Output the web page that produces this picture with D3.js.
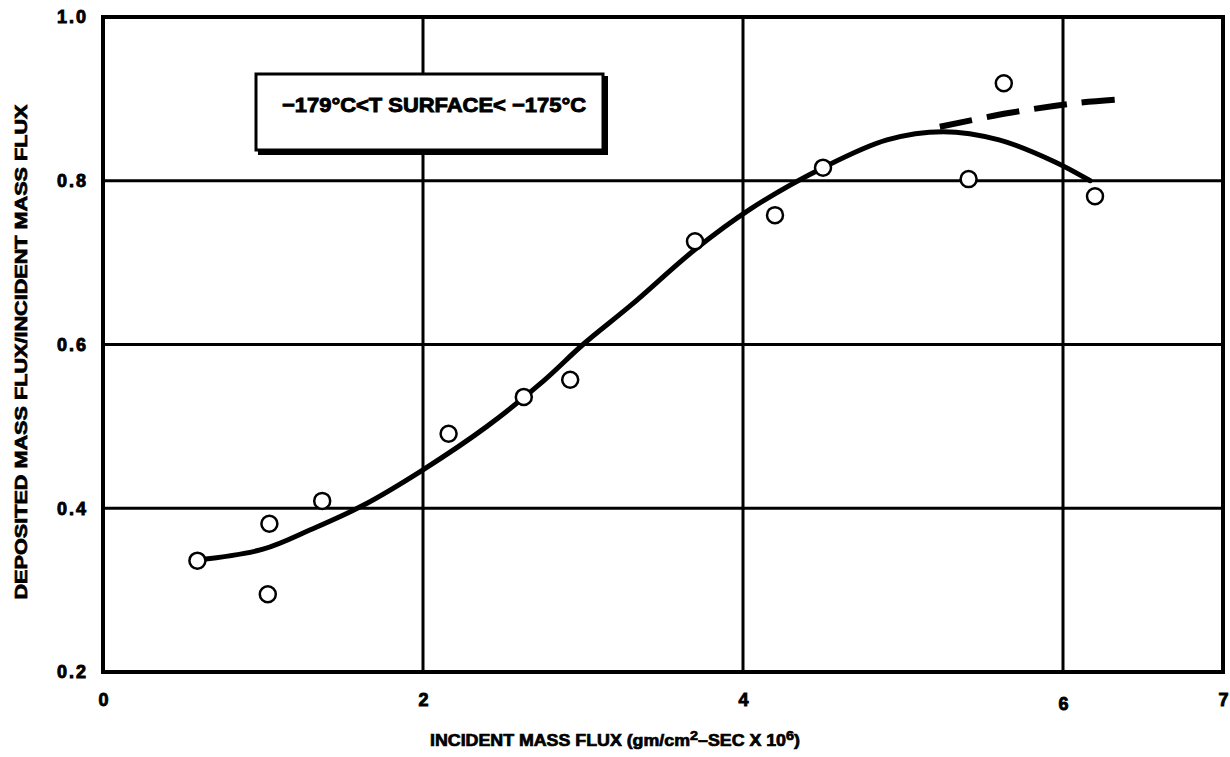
<!DOCTYPE html>
<html>
<head>
<meta charset="utf-8">
<script src="https://cdn.jsdelivr.net/npm/d3@7"></script>
<style>
  html, body { margin: 0; padding: 0; background: #fff; }
  svg { display: block; }
  text { font-family: "Liberation Sans", Arial, sans-serif; font-weight: bold; fill: #000; }
</style>
</head>
<body>
<svg id="chart" width="1230" height="757"></svg>
<script>
// ---- data ----
const xTicks = [0, 2, 4, 6, 7];
const yTicks = [0.2, 0.4, 0.6, 0.8, 1.0];
const pointX = [0.59, 1.04, 1.03, 1.37, 2.16, 2.63, 2.92, 3.70, 4.20, 4.50, 5.41, 5.63, 6.20];
const pointY = [0.336, 0.381, 0.295, 0.409, 0.491, 0.536, 0.557, 0.726, 0.758, 0.816, 0.802, 0.919, 0.781];
const curveX = [0.60, 1.00, 1.30, 1.62, 2.00, 2.40, 2.75, 3.00, 3.30, 3.70, 4.05, 4.50, 4.90, 5.25, 5.60, 5.95, 6.17];
const curveY = [0.337, 0.350, 0.374, 0.403, 0.447, 0.500, 0.555, 0.600, 0.648, 0.716, 0.766, 0.816, 0.850, 0.860, 0.850, 0.823, 0.800];
const dashX = [5.23, 5.67, 6.09, 6.41];
const dashY = [0.866, 0.883, 0.895, 0.900];
const legendText = "\u2212179\u00B0C<T SURFACE< \u2212175\u00B0C";
const xTitle = "INCIDENT MASS FLUX (gm/cm";
const yTitle = "DEPOSITED MASS FLUX/INCIDENT MASS FLUX";

// ---- layout ----
const svg = d3.select("#chart");
const L = 103, R = 1223, T = 17, B = 672;
const x = d3.scaleLinear().domain([0, 7]).range([L, R]);
const y = d3.scaleLinear().domain([0.2, 1.0]).range([B, T]);

// gridlines
const g = svg.append("g");
g.selectAll("line.vx").data(xTicks.filter(d => d > 0 && d < 7)).enter().append("line")
  .attr("x1", d => x(d)).attr("x2", d => x(d)).attr("y1", T).attr("y2", B)
  .attr("stroke", "#000").attr("stroke-width", 3);
g.selectAll("line.hy").data(yTicks.filter(d => d > 0.2 && d < 1.0)).enter().append("line")
  .attr("x1", L).attr("x2", R).attr("y1", d => y(d)).attr("y2", d => y(d))
  .attr("stroke", "#000").attr("stroke-width", 3);

// frame
svg.append("rect").attr("x", L).attr("y", T).attr("width", R - L).attr("height", B - T)
  .attr("fill", "none").attr("stroke", "#000").attr("stroke-width", 4);

// tick labels (axes via d3 axis, styled)
const xAxis = svg.append("g").attr("transform", `translate(0,${B})`)
  .call(d3.axisBottom(x).tickValues(xTicks).tickFormat(d3.format("d")).tickSize(0).tickPadding(21));
xAxis.select(".domain").remove();
xAxis.selectAll("text").style("font-size", "18px").style("font-family", "Liberation Sans, Arial, sans-serif")
  .style("font-weight", "bold").attr("stroke", "#000").attr("stroke-width", 0.9)
  .attr("dy", d => d === 6 ? "0.95em" : "0.71em");

const yAxis = svg.append("g").attr("transform", `translate(${L},0)`)
  .call(d3.axisLeft(y).tickValues(yTicks).tickFormat(d3.format(".1f")).tickSize(0).tickPadding(15));
yAxis.select(".domain").remove();
yAxis.selectAll("text").style("font-size", "18px").style("font-family", "Liberation Sans, Arial, sans-serif")
  .style("font-weight", "bold").style("letter-spacing", "2px").attr("stroke", "#000").attr("stroke-width", 0.9);

// fitted curve
const curveData = curveX.map((v, i) => [v, curveY[i]]);
const line = d3.line().x(d => x(d[0])).y(d => y(d[1])).curve(d3.curveCatmullRom.alpha(0.5));
svg.append("path").datum(curveData).attr("d", line)
  .attr("fill", "none").attr("stroke", "#000").attr("stroke-width", 5).attr("stroke-linecap", "round");

// dashed extension
const dashData = dashX.map((v, i) => [v, dashY[i]]);
svg.append("path").datum(dashData).attr("d", line)
  .attr("fill", "none").attr("stroke", "#000").attr("stroke-width", 6)
  .attr("stroke-dasharray", "33,15");

// data points
svg.selectAll("circle.pt").data(pointX.map((v, i) => [v, pointY[i]])).enter().append("circle")
  .attr("cx", d => x(d[0])).attr("cy", d => y(d[1])).attr("r", 8)
  .attr("fill", "#fff").attr("stroke", "#000").attr("stroke-width", 2.5);

// legend box
const lg = svg.append("g");
lg.append("rect").attr("x", 258).attr("y", 76).attr("width", 350).attr("height", 79).attr("fill", "#000");
lg.append("rect").attr("x", 256).attr("y", 74).attr("width", 347).attr("height", 76)
  .attr("fill", "#fff").attr("stroke", "#000").attr("stroke-width", 3);
lg.append("text").attr("x", 282).attr("y", 112)
  .attr("textLength", 304).attr("lengthAdjust", "spacingAndGlyphs")
  .style("font-size", "20px").attr("stroke", "#000").attr("stroke-width", 0.9)
  .text(legendText);

// x title
const xt = svg.append("text").attr("x", 430).attr("y", 746)
  .attr("textLength", 370).attr("lengthAdjust", "spacingAndGlyphs")
  .style("font-size", "16px").attr("stroke", "#000").attr("stroke-width", 0.7);
xt.append("tspan").text(xTitle);
xt.append("tspan").attr("dy", -6).style("font-size", "13px").text("2");
xt.append("tspan").attr("dy", 6).text("\u2013SEC X 10");
xt.append("tspan").attr("dy", -6).style("font-size", "13px").text("6");
xt.append("tspan").attr("dy", 6).text(")");

// y title
svg.append("text").attr("transform", "translate(27,352) rotate(-90)")
  .attr("text-anchor", "middle").attr("textLength", 495).attr("lengthAdjust", "spacingAndGlyphs")
  .style("font-size", "16px").attr("stroke", "#000").attr("stroke-width", 0.7)
  .text(yTitle);
</script>
</body>
</html>
